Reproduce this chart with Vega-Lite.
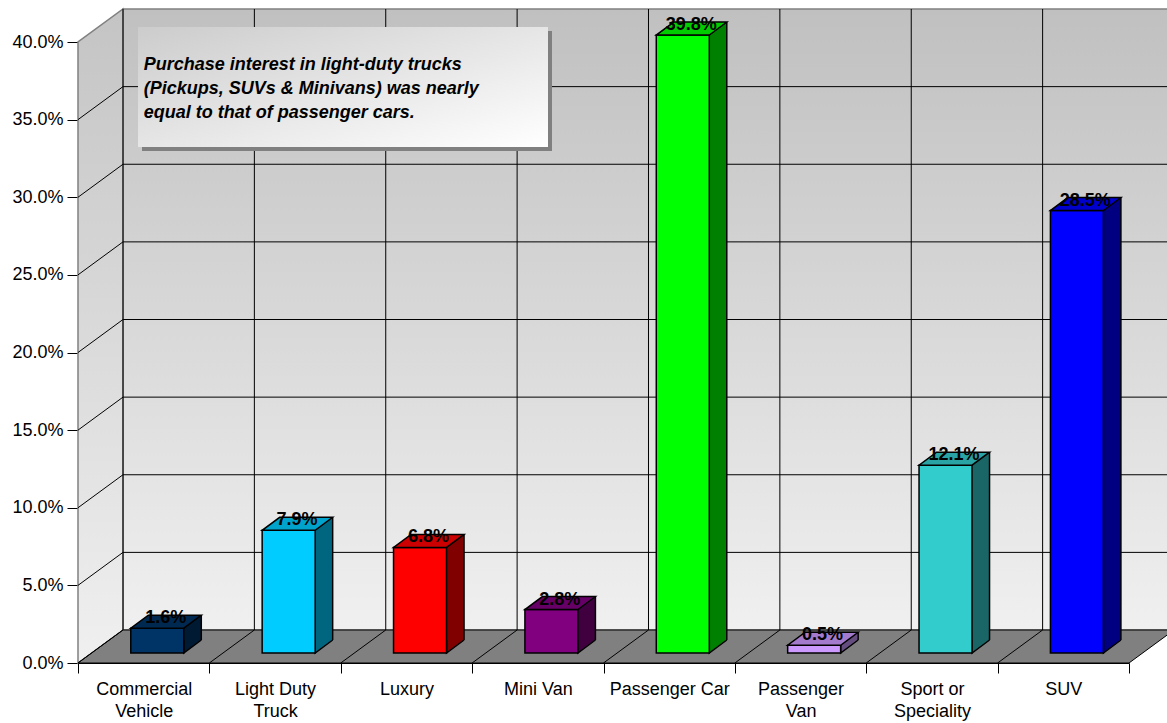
{
  "$schema": "https://vega.github.io/schema/vega-lite/v6.json",
  "width": 1051,
  "height": 621,
  "autosize": {"type": "none"},
  "padding": {"left": 78, "top": 42, "right": 38, "bottom": 60},
  "background": "white",
  "config": {
    "view": {"stroke": null},
    "font": "Liberation Sans",
    "axis": {"labelFont": "Liberation Sans", "labelColor": "black", "domainColor": "black", "tickColor": "black", "grid": false, "zindex": 1, "title": null}
  },
  "data": {
    "values": [
      {"category": "Commercial Vehicle", "share": 0.016},
      {"category": "Light Duty Truck", "share": 0.079},
      {"category": "Luxury", "share": 0.068},
      {"category": "Mini Van", "share": 0.028},
      {"category": "Passenger Car", "share": 0.398},
      {"category": "Passenger Van", "share": 0.005},
      {"category": "Sport or Speciality", "share": 0.121},
      {"category": "SUV", "share": 0.285}
    ]
  },
  "layer": [
    {
      "data": {"values": [{}]},
      "mark": {"type": "point", "shape": "M-20.69,-33L1030.31,-33L1030.31,-654L-20.69,-654Z", "size": 4, "filled": true, "opacity": 1,
        "fill": {"gradient": "linear", "x1": 0, "y1": 0, "x2": 0, "y2": 1, "stops": [{"offset": 0, "color": "#c0c0c0"}, {"offset": 1, "color": "#f0f0f0"}]},
        "stroke": "#808080", "strokeWidth": 1.5},
      "encoding": {
        "x": {"datum": "Commercial Vehicle", "type": "nominal",
          "scale": {"paddingInner": 0, "paddingOuter": 0},
          "axis": {"title": null, "tickBand": "extent", "tickSize": 10, "labelPadding": 7, "labelFontSize": 18, "labelLineHeight": 22, "labelAngle": 0, "labelLimit": 200,
            "labelExpr": "datum.label == 'Commercial Vehicle' ? ['Commercial','Vehicle'] : datum.label == 'Light Duty Truck' ? ['Light Duty','Truck'] : datum.label == 'Passenger Van' ? ['Passenger','Van'] : datum.label == 'Sport or Speciality' ? ['Sport or','Speciality'] : datum.label"}},
        "y": {"datum": 0, "type": "quantitative",
          "scale": {"domain": [0, 0.4], "nice": false},
          "axis": {"title": null, "values": [0, 0.05, 0.1, 0.15, 0.2, 0.25, 0.3, 0.35, 0.4], "format": ".1%", "tickSize": 11, "labelPadding": 4, "labelFontSize": 18}}
      }
    },
    {
      "data": {"values": [{}]},
      "mark": {"type": "point", "shape": "M-65.69,0L-20.69,-33L-20.69,-654L-65.69,-621Z", "size": 4, "filled": true, "opacity": 1,
        "fill": {"gradient": "linear", "x1": 0, "y1": 0, "x2": 0, "y2": 1, "stops": [{"offset": 0, "color": "#c4c4c4"}, {"offset": 1, "color": "#f0f0f0"}]},
        "stroke": "#808080", "strokeWidth": 1.5},
      "encoding": {
        "x": {"datum": "Commercial Vehicle", "type": "nominal"},
        "y": {"datum": 0, "type": "quantitative"}
      }
    },
    {
      "data": {"values": [{"v": 0.05}, {"v": 0.1}, {"v": 0.15}, {"v": 0.2}, {"v": 0.25}, {"v": 0.3}, {"v": 0.35}]},
      "mark": {"type": "point", "shape": "M-65.69,0L-20.69,-33L1030.31,-33", "size": 4, "filled": false, "opacity": 1, "stroke": "black", "strokeWidth": 1},
      "encoding": {
        "x": {"datum": "Commercial Vehicle", "type": "nominal"},
        "y": {"field": "v", "type": "quantitative"}
      }
    },
    {
      "mark": {"type": "point", "shape": "M-20.69,-33L-20.69,-654", "size": 4, "filled": false, "opacity": 1, "stroke": "black", "strokeWidth": 1},
      "encoding": {
        "x": {"field": "category", "type": "nominal", "sort": null},
        "y": {"datum": 0, "type": "quantitative"}
      }
    },
    {
      "data": {"values": [{}]},
      "mark": {"type": "point", "shape": "M-65.69,0L985.31,0L1030.31,-33L-20.69,-33Z", "size": 4, "filled": true, "opacity": 1, "fill": "#808080", "stroke": "black", "strokeWidth": 1},
      "encoding": {
        "x": {"datum": "Commercial Vehicle", "type": "nominal"},
        "y": {"datum": 0, "type": "quantitative"}
      }
    },
    {
      "mark": {"type": "point", "shape": "M-65.69,0L-20.69,-33", "size": 4, "filled": false, "opacity": 1, "stroke": "black", "strokeWidth": 1},
      "encoding": {
        "x": {"field": "category", "type": "nominal", "sort": null},
        "y": {"datum": 0, "type": "quantitative"}
      }
    },
    {
      "mark": {"type": "bar", "width": 17.5, "xOffset": 48.85, "yOffset": -23, "y2Offset": -23, "strokeWidth": 0},
      "encoding": {
        "x": {"field": "category", "type": "nominal", "sort": null},
        "y": {"field": "share", "type": "quantitative"},
        "y2": {"datum": 0},
        "fill": {"field": "category", "type": "nominal", "legend": null,
          "scale": {"domain": ["Commercial Vehicle", "Light Duty Truck", "Luxury", "Mini Van", "Passenger Car", "Passenger Van", "Sport or Speciality", "SUV"],
            "range": ["#001a33", "#006680", "#800000", "#400040", "#008000", "#664d80", "#1a6666", "#000080"]}}
      }
    },
    {
      "mark": {"type": "point", "shape": "M40.1,-23L40.1,-10L57.6,-23", "size": 4, "filled": true, "opacity": 1, "stroke": "black", "strokeWidth": 1.5},
      "encoding": {
        "x": {"field": "category", "type": "nominal", "sort": null},
        "y": {"datum": 0, "type": "quantitative"},
        "fill": {"field": "category", "type": "nominal", "legend": null,
          "scale": {"domain": ["Commercial Vehicle", "Light Duty Truck", "Luxury", "Mini Van", "Passenger Car", "Passenger Van", "Sport or Speciality", "SUV"],
            "range": ["#001a33", "#006680", "#800000", "#400040", "#008000", "#664d80", "#1a6666", "#000080"]}}
      }
    },
    {
      "mark": {"type": "rule", "color": "black", "strokeWidth": 1.5, "xOffset": 57.6, "yOffset": -23, "y2Offset": -23},
      "encoding": {
        "x": {"field": "category", "type": "nominal", "sort": null},
        "y": {"field": "share", "type": "quantitative"},
        "y2": {"datum": 0}
      }
    },
    {
      "mark": {"type": "bar", "width": 53, "xOffset": 13.6, "yOffset": -10, "y2Offset": -10, "stroke": "black", "strokeWidth": 1.5},
      "encoding": {
        "x": {"field": "category", "type": "nominal", "sort": null},
        "y": {"field": "share", "type": "quantitative"},
        "y2": {"datum": 0},
        "fill": {"field": "category", "type": "nominal", "legend": null,
          "scale": {"domain": ["Commercial Vehicle", "Light Duty Truck", "Luxury", "Mini Van", "Passenger Car", "Passenger Van", "Sport or Speciality", "SUV"],
            "range": ["#003366", "#00ccff", "#ff0000", "#800080", "#00ff00", "#cc99ff", "#33cccc", "#0000ff"]}}
      }
    },
    {
      "mark": {"type": "point", "shape": "M-12.9,-10L40.1,-10L57.6,-23L4.6,-23Z", "size": 4, "filled": true, "opacity": 1, "stroke": "black", "strokeWidth": 1.5},
      "encoding": {
        "x": {"field": "category", "type": "nominal", "sort": null},
        "y": {"field": "share", "type": "quantitative"},
        "fill": {"field": "category", "type": "nominal", "legend": null,
          "scale": {"domain": ["Commercial Vehicle", "Light Duty Truck", "Luxury", "Mini Van", "Passenger Car", "Passenger Van", "Sport or Speciality", "SUV"],
            "range": ["#002952", "#00a3cc", "#cc0000", "#660066", "#00cc00", "#a37acc", "#29a3a3", "#0000cc"]}}
      }
    },
    {
      "mark": {"type": "text", "dx": 22, "dy": -15, "baseline": "alphabetic", "align": "center", "fontSize": 18, "fontWeight": "bold", "color": "black"},
      "encoding": {
        "x": {"field": "category", "type": "nominal", "sort": null},
        "y": {"field": "share", "type": "quantitative"},
        "text": {"field": "share", "type": "quantitative", "format": ".1%"}
      }
    },
    {
      "data": {"values": [{}]},
      "mark": {"type": "point", "shape": "M-1.69,-39L408.31,-39L408.31,81L-1.69,81Z", "size": 4, "filled": true, "opacity": 1, "fill": "#808080", "strokeWidth": 0},
      "encoding": {
        "x": {"datum": "Commercial Vehicle", "type": "nominal"},
        "y": {"datum": 0.382, "type": "quantitative"}
      }
    },
    {
      "data": {"values": [{}]},
      "mark": {"type": "point", "shape": "M-5.69,-43L404.31,-43L404.31,77L-5.69,77Z", "size": 4, "filled": true, "opacity": 1,
        "fill": {"gradient": "linear", "x1": 0, "y1": 0, "x2": 1, "y2": 1, "stops": [{"offset": 0, "color": "#cccccc"}, {"offset": 1, "color": "#ffffff"}]},
        "strokeWidth": 0},
      "encoding": {
        "x": {"datum": "Commercial Vehicle", "type": "nominal"},
        "y": {"datum": 0.382, "type": "quantitative"}
      }
    },
    {
      "data": {"values": [{}]},
      "mark": {"type": "text", "align": "left", "baseline": "alphabetic", "fontSize": 18, "fontWeight": "bold", "fontStyle": "italic", "lineHeight": 24, "color": "black"},
      "encoding": {
        "x": {"datum": "Commercial Vehicle", "type": "nominal"},
        "y": {"datum": 0.382, "type": "quantitative"},
        "text": {"value": ["Purchase interest in light-duty trucks", "(Pickups, SUVs & Minivans) was nearly", "equal to that of passenger cars."]}
      }
    }
  ],
  "resolve": {"scale": {"fill": "independent"}}
}
